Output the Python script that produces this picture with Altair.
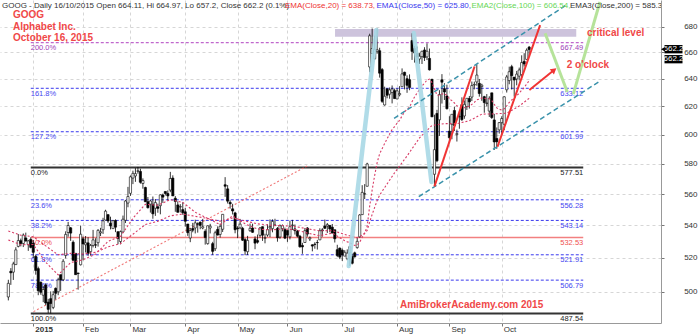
import altair as alt
import pandas as pd

FONT = "Liberation Sans"

# ---------------- price data (bar index 0 = 2 Jan 2015, -10 = 17 Dec 2014) ----------------
open_ = [
    497.0, 512.0, 511.5, 516.0, 527.0, 530.5, 528.8, 532.2, 528.1, 531.3,
    529.0, 521.0, 513.6, 505.6, 498.0, 504.0, 494.0, 496.0, 491.0, 502.0, 500.0, 510.0, 507.0, 521.5, 535.6, 538.5, 529.6, 522.8, 511.0, 515.9,
    531.7, 528.0, 529.2, 523.8, 527.6, 528.0, 529.3, 535.3, 537.3, 543.4, 546.8, 541.4, 538.0, 543.1, 536.1, 530.0, 535.9, 543.2, 554.2,
    560.5, 570.5, 571.9, 575.0, 574.9, 566.9, 564.3, 555.1, 553.5, 553.4, 550.9, 551.8, 552.5, 559.4, 561.7, 560.4, 562.6, 570.5, 557.3, 553.0, 551.6, 550.0,
    548.6, 540.9, 532.2, 538.1, 538.4, 541.0, 542.0, 538.4, 536.3, 528.7, 538.4, 528.7, 525.6, 537.5, 534.4, 537.6, 566.1, 563.4, 554.6, 550.5, 547.9,
    538.4, 538.5, 538.2, 531.2, 523.8, 536.7, 538.4, 531.6, 530.6, 533.8, 539.2, 532.0, 534.0, 538.5, 538.0, 540.2, 538.1, 532.8, 538.0, 537.4,
    536.8, 532.9, 539.9, 537.8, 536.4, 533.3, 527.6, 529.4, 538.4, 531.6, 528.0, 528.4, 529.4, 531.0, 537.2, 539.6, 539.6, 540.0, 538.9, 537.3, 525.0, 526.0,
    524.7, 521.1, 519.5, 523.1, 521.0, 523.1, 526.3, 532.9, 546.8, 560.1, 565.1, 649.0, 659.2, 655.2, 660.9, 661.3, 647.0, 621.0, 632.8, 628.8, 630.0, 631.4,
    625.3, 628.4, 634.3, 645.0, 640.2, 639.5, 669.2, 663.1, 659.3, 655.0, 656.8, 661.9, 656.6, 655.5, 639.8, 573.0, 614.9, 610.4, 639.4, 632.8, 627.5,
    602.4, 607.2, 617.0, 600.0, 612.5, 621.2, 613.1, 619.8, 625.7, 626.7, 635.5, 637.8, 636.8, 634.4, 627.0, 622.0, 616.6, 629.8, 610.3, 597.3, 603.3,
    608.4, 607.2, 632.0, 638.8, 649.2, 641.4, 640.0, 642.1, 643.2, 653.2, 654.7, 664.11,
]
high = [
    507.0, 513.9, 517.7, 526.5, 534.6, 531.8, 535.0, 535.5, 531.0, 532.6,
    531.0, 522.0, 514.8, 505.9, 503.5, 504.9, 495.9, 500.2, 500.5, 502.5, 508.2, 510.0, 519.3, 536.3, 542.2, 539.0, 530.7, 522.9, 511.1, 539.9,
    533.0, 533.4, 532.7, 528.5, 537.2, 532.0, 537.7, 538.5, 544.8, 549.9, 547.0, 545.5, 543.1, 543.8, 536.1, 536.8, 546.2, 556.1, 564.7,
    572.2, 575.4, 577.1, 577.9, 576.7, 570.3, 564.8, 558.1, 556.4, 558.4, 556.8, 553.8, 559.8, 560.3, 561.7, 562.4, 574.6, 572.3, 558.7, 555.3, 553.5, 554.7,
    551.1, 540.9, 538.4, 541.6, 543.6, 541.9, 542.5, 544.1, 537.6, 540.0, 541.0, 529.8, 536.7, 539.4, 541.1, 547.1, 571.1, 565.9, 556.0, 553.7, 548.6,
    539.5, 544.1, 539.1, 532.1, 533.5, 541.2, 541.1, 533.2, 534.3, 539.0, 539.3, 534.8, 540.7, 543.8, 543.8, 544.2, 539.0, 540.6, 540.6, 538.6,
    536.8, 543.0, 543.5, 540.6, 537.2, 534.1, 529.2, 538.4, 539.0, 533.1, 528.3, 529.6, 531.0, 538.2, 538.3, 543.7, 541.5, 540.0, 540.9, 537.3, 528.0, 526.3,
    525.7, 524.7, 525.2, 526.2, 522.7, 523.8, 532.6, 547.1, 565.8, 566.5, 580.7, 674.5, 678.6, 673.0, 678.6, 663.6, 648.2, 634.3, 632.8, 633.7, 635.2, 632.9,
    633.1, 634.7, 647.9, 645.4, 642.7, 643.4, 674.9, 665.0, 664.5, 659.5, 661.3, 664.0, 667.0, 663.0, 640.0, 614.0, 617.5, 631.7, 643.6, 636.9, 635.8,
    612.9, 614.4, 619.7, 603.5, 616.3, 626.5, 624.2, 625.8, 627.5, 638.1, 638.0, 650.9, 640.0, 636.5, 627.6, 628.9, 627.3, 629.8, 614.6, 605.0, 608.8,
    612.9, 627.3, 643.0, 649.2, 650.6, 641.4, 646.0, 648.5, 657.8, 659.4, 663.1, 664.97,
]
low = [
    495.0, 504.0, 506.9, 516.0, 526.4, 527.0, 526.6, 530.0, 524.3, 525.8,
    520.0, 510.0, 498.0, 498.3, 494.0, 492.3, 487.8, 487.5, 490.0, 495.5, 498.0, 500.5, 506.2, 519.7, 533.0, 530.4, 518.2, 510.0, 501.2, 515.5,
    518.6, 523.3, 521.3, 521.4, 526.4, 526.0, 526.9, 533.4, 534.7, 543.1, 541.6, 537.5, 538.0, 535.8, 528.3, 528.3, 535.5, 541.5, 551.5,
    558.8, 566.5, 568.0, 573.4, 566.8, 563.5, 554.9, 550.7, 548.1, 544.2, 546.0, 548.0, 547.0, 554.3, 559.1, 555.8, 561.2, 558.8, 548.6, 548.1, 548.2, 546.7,
    539.2, 533.5, 529.6, 535.7, 535.0, 535.5, 537.6, 537.6, 528.1, 528.1, 535.0, 521.9, 524.2, 533.7, 532.4, 535.9, 558.2, 553.9, 550.6, 546.9, 535.1,
    532.1, 537.6, 530.4, 521.7, 521.8, 536.0, 535.4, 525.3, 528.7, 532.4, 530.4, 528.9, 533.0, 532.7, 535.7, 539.5, 529.9, 531.7, 536.3, 531.5,
    529.8, 531.3, 537.1, 534.3, 532.5, 526.2, 522.5, 529.4, 533.0, 530.3, 524.0, 525.6, 525.1, 531.0, 533.0, 537.8, 535.3, 535.7, 535.2, 529.4, 520.5, 519.3,
    518.2, 521.1, 518.6, 515.2, 516.1, 520.2, 525.6, 532.4, 546.7, 556.8, 565.0, 645.0, 659.2, 654.3, 659.0, 641.0, 622.5, 620.5, 625.8, 625.5, 622.1, 625.5,
    625.3, 627.2, 634.3, 632.3, 629.8, 631.7, 654.3, 652.3, 651.7, 651.2, 651.2, 653.5, 654.2, 646.3, 612.3, 565.0, 581.1, 599.1, 622.0, 624.6, 617.7,
    594.1, 596.8, 602.5, 595.2, 604.1, 609.6, 611.1, 617.4, 618.4, 623.8, 632.3, 635.0, 627.0, 624.0, 615.4, 620.0, 612.4, 611.0, 589.4, 590.2, 600.7,
    600.0, 603.1, 630.0, 636.1, 632.2, 627.0, 635.3, 639.0, 640.6, 649.3, 654.5, 657.2,
]
close = [
    504.9, 511.1, 516.4, 524.9, 530.6, 528.8, 534.0, 530.3, 530.4, 526.4,
    523.4, 512.5, 500.6, 499.7, 501.3, 493.5, 489.9, 493.2, 498.3, 499.1, 506.9, 506.9, 518.0, 534.4, 539.95, 535.2, 518.6, 510.0, 510.7, 534.5,
    528.5, 529.2, 522.8, 527.6, 531.0, 527.8, 536.9, 536.0, 542.9, 549.0, 542.8, 539.7, 543.0, 538.9, 531.9, 536.1, 543.9, 555.5, 558.4,
    571.3, 573.6, 573.4, 575.3, 567.7, 568.9, 555.0, 551.2, 555.5, 547.3, 554.5, 550.8, 559.5, 558.0, 560.4, 558.8, 570.2, 558.8, 555.2, 548.3, 552.0, 548.0,
    542.6, 535.5, 536.8, 537.0, 541.6, 540.8, 540.0, 539.2, 532.5, 539.8, 539.5, 524.0, 535.4, 534.0, 539.4, 547.0, 565.1, 555.4, 553.7, 549.1, 537.3,
    537.9, 540.8, 530.8, 524.2, 530.7, 538.2, 535.7, 529.0, 529.6, 538.4, 533.9, 532.3, 537.4, 539.3, 542.5, 540.1, 532.3, 539.8, 539.8, 532.1,
    534.0, 539.2, 540.3, 536.7, 533.3, 526.8, 526.7, 536.7, 534.6, 532.3, 527.2, 528.2, 529.3, 536.7, 536.7, 538.2, 540.5, 537.8, 535.2, 531.7, 521.5, 520.5,
    521.8, 523.4, 522.9, 526.8, 516.8, 520.7, 530.1, 546.6, 561.1, 560.2, 579.9, 672.9, 663.0, 662.3, 662.1, 644.3, 623.6, 627.3, 628.0, 631.9, 632.6, 625.6,
    631.2, 629.3, 643.8, 642.7, 635.3, 633.7, 660.8, 659.6, 656.5, 657.1, 660.9, 656.1, 660.9, 646.8, 612.5, 589.6, 582.1, 628.6, 637.6, 630.4, 618.3,
    597.8, 614.3, 606.3, 600.7, 612.7, 610.5, 621.4, 625.8, 623.2, 635.1, 636.0, 642.9, 629.3, 635.4, 622.7, 622.4, 625.8, 612.0, 594.9, 595.0, 608.4,
    611.3, 626.9, 641.5, 645.4, 642.4, 639.2, 643.6, 646.7, 652.3, 651.2, 661.7, 662.2,
]
bar_index = list(range(-10, 200))

# EMA readings (bar index, value)
ema20_x = [-10, -5, 0, 5, 10, 15, 20, 25, 30, 35, 40, 45, 50, 55, 60, 65, 70, 75, 80, 85, 90, 95,
           100, 105, 110, 115, 120, 125] + list(range(126, 200))
ema20_y = [531.0, 528.0, 528.2, 517.4, 509.9, 517.2, 518.9, 522.3, 530.1, 533.1, 544.5, 553.4, 552.8,
           556.4, 554.6, 548.3, 544.4, 540.5, 546.0, 541.0, 537.7, 537.2, 537.8, 537.4, 535.2, 533.6,
           535.2, 530.5,
           529.8, 529.5, 528.3, 527.6, 527.8, 529.6, 532.6, 535.2, 539.5, 552.2, 562.7, 572.2, 580.8,
           586.8, 590.3, 593.8, 597.1, 600.4, 603.5, 605.6, 608.0, 610.0, 613.2, 616.0, 617.9, 619.4,
           623.3, 626.8, 629.6, 632.2, 634.9, 636.9, 639.2, 639.9, 637.3, 632.8, 628.0, 628.0, 628.9,
           629.1, 628.0, 625.2, 624.1, 622.4, 620.4, 619.6, 618.8, 619.0, 619.6, 620.0, 621.4, 622.8,
           624.7, 625.2, 626.1, 625.8, 625.5, 625.5, 624.2, 621.4, 618.9, 617.9, 617.3, 618.2, 620.4,
           622.8, 624.7, 626.1, 627.7, 629.5, 631.7, 633.6, 636.3, 638.7]
ema50_x = [-10, -5, 0, 5, 10, 15, 20, 25, 30, 35, 40, 45, 50, 55, 60, 65, 70, 75, 80, 85, 90, 95,
           100, 105, 110, 115, 120, 125, 130, 131, 132, 133, 134, 135, 136, 137, 138, 139, 140,
           145, 150, 155, 160, 165, 170, 175, 180, 185, 190, 195, 199]
ema50_y = [536.5, 533.9, 533.0, 527.3, 521.9, 522.8, 522.4, 523.4, 526.7, 528.7, 534.5, 540.6, 542.6,
           546.0, 547.2, 545.7, 544.4, 542.6, 544.7, 542.8, 541.0, 540.1, 539.9, 539.3, 537.9, 536.6,
           536.8, 534.4, 532.4, 533.0, 534.1, 535.1, 536.9, 542.2, 546.9, 551.4, 555.8, 559.3, 561.8,
           574.0, 585.3, 597.7, 606.4, 607.7, 607.7, 609.7, 614.4, 614.6, 615.1, 620.2, 625.8]

# Fibonacci levels
fib_pct = ["200.0%", "161.8%", "127.2%", "0.0%", "23.6%", "38.2%", "50.0%", "61.8%", "78.6%", "100.0%"]
fib_val = [667.49, 633.12, 601.99, 577.51, 556.28, 543.14, 532.53, 521.91, 506.79, 487.54]
fib_style = ["purple", "blue", "blue", "black", "blue", "blue", "red", "blue", "blue", "black"]

month_idx = [0, 20, 39, 61, 82, 102, 124, 146, 167, 188]
month_lbl = ["2015", "Feb", "Mar", "Apr", "May", "Jun", "Jul", "Aug", "Sep", "Oct"]
price_ticks = [500, 520, 540, 560, 580, 600, 620, 640, 660, 680]

# drawn annotation lines: (segment, bar index, price)
trend_pts = [(0.1, 488.6), (109.9, 578.5)]
blue_thick = [("a", 126.6, 515.2), ("a", 137.7, 677.4), ("b", 152.7, 675.0), ("b", 159.8, 567.9)]
channel = [("u", 144.8, 611.4), ("u", 213.9, 697.3), ("l", 154.7, 558.3), ("l", 227.1, 638.0)]
red_lines = [("a", 161.0, 565.0), ("a", 177.1, 649.3), ("b", 186.3, 591.6), ("b", 203.4, 681.3)]
green_lines = [("a", 205.4, 674.8), ("a", 214.3, 630.4), ("b", 216.7, 628.9), ("b", 227.4, 699.8)]
arrow_pts = [(199.1, 631.9), (209.0, 646.7)]
crit_box = {"x": 121.1, "x2": 217.9, "y": 672.2, "y2": 678.2}

# ---------------- scales ----------------
XS = alt.Scale(domain=[-11.34, 249.9], nice=False, zero=False)
YS = alt.Scale(type="log", domain=[482.2, 701.4], nice=False, zero=False)

def X(f, **k):
    return alt.X(f, type="quantitative", scale=XS, axis=None, **k)

def Y(f, **k):
    return alt.Y(f, type="quantitative", scale=YS, axis=None, **k)

bars = pd.DataFrame({"i": bar_index, "o": open_, "h": high, "l": low, "c": close})
bars["up"] = bars["c"] > bars["o"]

lbl_expr = "".join(f"datum.value == {v} ? '{t}' : " for v, t in zip(month_idx, month_lbl)) + "''"

x_axis = alt.Axis(values=month_idx, labelExpr=lbl_expr, title=None, grid=True, gridDash=[3, 3],
                  gridColor="#d6d6d6", tickSize=3, tickColor="#777", domainColor="#999",
                  labelFont=FONT, labelFontSize=8, labelColor="#333", labelAlign="left",
                  labelBaseline="alphabetic", labelPadding=5.5, labelOffset=1.5, labelOverlap=False,
                  labelFlush=False,
                  labelFontWeight={"condition": {"test": "datum.value == 0", "value": "bold"},
                                   "value": "normal"})
y_axis = alt.Axis(orient="right", values=price_ticks, title=None, grid=True, gridDash=[3, 3],
                  gridColor="#d6d6d6", tickSize=3, tickColor="#777", domainColor="#999",
                  labelFont=FONT, labelFontSize=8, labelColor="#333", labelAlign="right",
                  labelPadding=33, format="d", labelOverlap=False, labelFlush=False)

# axes / grid layer (invisible points)
axes_layer = alt.Chart(bars).mark_point(opacity=0).encode(
    x=alt.X("i:Q", scale=XS, axis=x_axis),
    y=alt.Y("c:Q", scale=YS, axis=y_axis),
)

box = alt.Chart(pd.DataFrame([crit_box])).mark_rect(color="#cdc3dc").encode(
    x=X("x"), x2="x2", y=Y("y"), y2="y2")

fib = pd.DataFrame({"pct": fib_pct, "val": fib_val, "style": fib_style})
fib["x0"] = -1.0
fib["x1"] = 220.7
fib["lab"] = [f"{v:.2f}" for v in fib_val]
col_map = {"purple": "#b040c0", "blue": "#3838ee", "black": "#333333", "red": "#f07070"}
txt_map = {"purple": "#a040b8", "blue": "#4646f0", "black": "#222222", "red": "#f05050"}
fib["col"] = [col_map[s] for s in fib_style]
fib["tcol"] = [txt_map[s] for s in fib_style]

fib_dash = alt.Chart(fib[fib["style"].isin(["blue", "purple"])]).mark_rule(
    strokeDash=[3, 2], strokeWidth=1).encode(
    x=X("x0"), x2="x1", y=Y("val"), color=alt.Color("col:N", scale=None))
fib_solid = alt.Chart(fib[fib["style"] == "black"]).mark_rule(strokeWidth=2, color="#333").encode(
    x=X("x0"), x2="x1", y=Y("val"))
fib_red = alt.Chart(fib[fib["style"] == "red"]).mark_rule(strokeWidth=1.5, color="#f28080").encode(
    x=X("x0"), x2="x1", y=Y("val"))
fib_left = alt.Chart(fib).mark_text(align="left", baseline="alphabetic", dy=7.7, font=FONT,
                                    fontSize=7.5).encode(
    x=X("x0"), y=Y("val"), text="pct:N", color=alt.Color("tcol:N", scale=None))
fib_right = alt.Chart(fib).mark_text(align="right", baseline="alphabetic", dy=7.7, font=FONT,
                                     fontSize=7.5).encode(
    x=X("x1"), y=Y("val"), text="lab:N", color=alt.Color("tcol:N", scale=None))

trend = alt.Chart(pd.DataFrame(trend_pts, columns=["x", "y"])).mark_line(
    color="#f07878", strokeDash=[2, 2], strokeWidth=1.1).encode(x=X("x"), y=Y("y"))

wick = alt.Chart(bars).mark_rule(color="black", strokeWidth=0.8).encode(
    x=X("i"), y=Y("l"), y2="h")
body = alt.Chart(bars).mark_bar(size=2.2, stroke="black", strokeWidth=0.6).encode(
    x=X("i"), y=Y("o"), y2="c",
    fill=alt.condition("datum.up", alt.value("white"), alt.value("black")))

ema20 = alt.Chart(pd.DataFrame({"x": ema20_x, "y": ema20_y})).mark_line(
    color="#d83c66", strokeDash=[2, 2], strokeWidth=1.1).encode(x=X("x"), y=Y("y"), order="x:Q")
ema50 = alt.Chart(pd.DataFrame({"x": ema50_x, "y": ema50_y})).mark_line(
    color="#d83c66", strokeDash=[2, 2], strokeWidth=1.1).encode(x=X("x"), y=Y("y"), order="x:Q")

def seg_chart(pts, **mk):
    df = pd.DataFrame(pts, columns=["s", "x", "y"])
    return alt.Chart(df).mark_line(**mk).encode(x=X("x"), y=Y("y"), detail="s:N")

lblue = seg_chart(blue_thick, color="#a9d8e6", strokeWidth=4.5, opacity=0.9, strokeCap="round")
chan = seg_chart(channel, color="#3a92ab", strokeWidth=1.5, strokeDash=[5, 3])
reds = seg_chart(red_lines, color="#f03434", strokeWidth=2)
greens = seg_chart(green_lines, color="#b6e39a", strokeWidth=3)

arrow_line = alt.Chart(pd.DataFrame(arrow_pts, columns=["x", "y"])).mark_line(
    color="#f03434", strokeWidth=2).encode(x=X("x"), y=Y("y"))
arrow_head = alt.Chart(pd.DataFrame([arrow_pts[1]], columns=["x", "y"])).mark_point(
    shape="triangle-up", filled=True, size=45, angle=51, color="#f03434", opacity=1).encode(
    x=X("x"), y=Y("y"))

# ---------------- texts ----------------
hdr = pd.DataFrame({
    "x": [2, 285, 376.5, 471.5, 570],
    "t": ["GOOG - Daily 16/10/2015 Open 664.11, Hi 664.97, Lo 657.2, Close 662.2 (0.1%)",
          "EMA(Close,20) = 638.73,", "EMA1(Close,50) = 625.80,", "EMA2(Close,100) = 606.54,",
          "EMA3(Close,200) = 585.3"],
    "c": ["#333333", "#ee3333", "#3838ee", "#66d655", "#333333"],
})
header = alt.Chart(hdr).mark_text(align="left", baseline="alphabetic", font=FONT, fontSize=8,
                                  clip=True).encode(
    x=alt.X("x:Q", scale=None), y=alt.value(7.5), text="t:N", color=alt.Color("c:N", scale=None))

ttl = pd.DataFrame({"t": ["GOOG", "Alphabet Inc.", "October 16, 2015"], "y": [17.5, 29.5, 41]})
titles = alt.Chart(ttl).mark_text(align="left", baseline="alphabetic", font=FONT, fontSize=10,
                                  fontWeight="bold", color="#f04848").encode(
    x=alt.value(13), y=alt.Y("y:Q", scale=None), text="t:N")

notes = pd.DataFrame({"t": ["critical level", "2 o'clock", "AmiBrokerAcademy.com 2015"],
                      "x": [587, 566.7, 400], "y": [36.3, 68, 307.5]})
note_txt = alt.Chart(notes).mark_text(align="left", baseline="alphabetic", font=FONT, fontSize=10,
                                      fontWeight="bold", color="#f04848").encode(
    x=alt.X("x:Q", scale=None), y=alt.Y("y:Q", scale=None), text="t:N")

# price tags at right axis
tags = pd.DataFrame({"x": [664.5, 664.5], "x2": [682.5, 682.5], "y": [665.7, 658.0],
                     "y2": [659.3, 651.7], "ym": [662.4, 654.8], "t": ["662.2", "662.2"]})
tag_rect = alt.Chart(tags).mark_rect(color="black").encode(
    x=alt.X("x:Q", scale=None), x2="x2", y=Y("y"), y2="y2")
tag_txt = alt.Chart(tags).mark_text(align="center", baseline="middle", font=FONT, fontSize=8,
                                    color="white").encode(
    x=alt.value(673.5), y=Y("ym"), text="t:N")
tag_ptr = alt.Chart(pd.DataFrame({"y": [662.4]})).mark_point(
    shape="triangle-left", filled=True, size=20, color="black", opacity=1).encode(
    x=alt.value(663), y=Y("y"))

chart = alt.layer(
    axes_layer, box, fib_dash, fib_solid, fib_red, fib_left, fib_right, trend,
    wick, body, ema20, ema50, lblue, chan, reds, greens, arrow_line, arrow_head,
    header, titles, note_txt, tag_rect, tag_txt, tag_ptr,
).resolve_axis(x="independent", y="independent").properties(
    width=661, height=323, autosize="none",
    padding={"left": 0, "top": 0, "right": 39, "bottom": 11},
    background="white",
).configure_view(strokeWidth=0)

chart.save("out.html", embed_options={"renderer": "svg", "actions": False})
